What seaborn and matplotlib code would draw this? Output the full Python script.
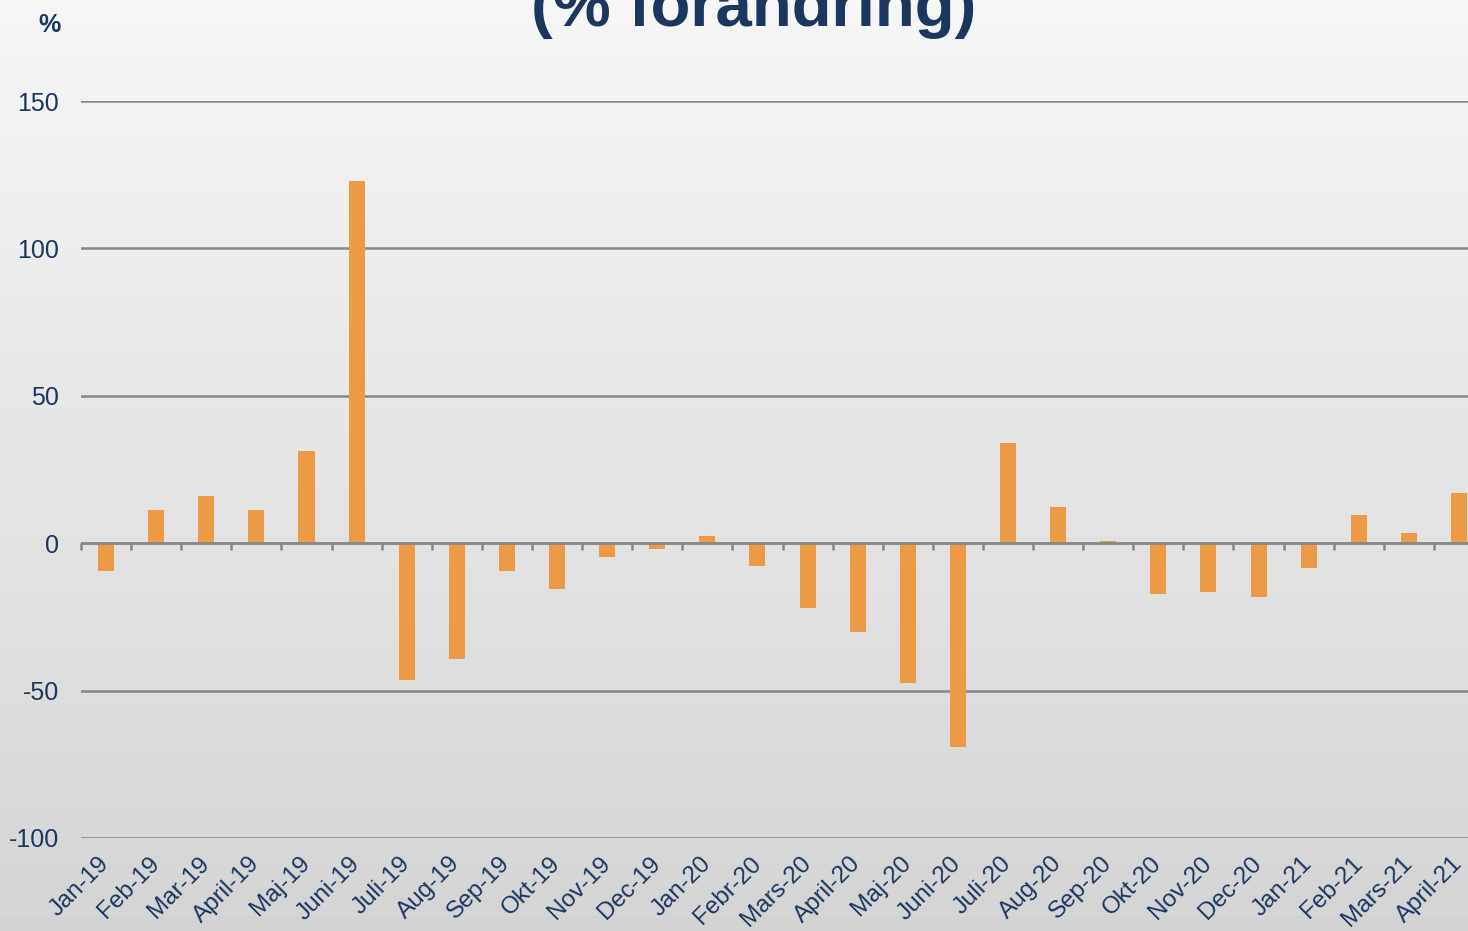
import matplotlib.pyplot as plt
import seaborn as sns
import numpy as np
import pandas as pd


months = ['Jan-19', 'Feb-19', 'Mar-19', 'April-19', 'Maj-19', 'Juni-19', 'Juli-19',
          'Aug-19', 'Sep-19', 'Okt-19', 'Nov-19', 'Dec-19', 'Jan-20', 'Febr-20',
          'Mars-20', 'April-20', 'Maj-20', 'Juni-20', 'Juli-20', 'Aug-20', 'Sep-20',
          'Okt-20', 'Nov-20', 'Dec-20', 'Jan-21', 'Feb-21', 'Mars-21', 'April-21']
change = [-9.4, 11.4, 16.0, 11.4, 31.4, 122.8, -46.3,
          -39.2, -9.4, -15.6, -4.6, -1.9, 2.5, -7.6,
          -22.1, -30.0, -47.3, -69.0, 34.1, 12.4, 0.6,
          -17.3, -16.5, -18.4, -8.4, 9.6, 3.3, 16.9]
y_ticks = [-100, -50, 0, 50, 100, 150]

navy = '#1b365f'
bar_color = '#ec9a45'
grid_color = '#878787'

plt.rcParams['font.family'] = ['Liberation Sans', 'DejaVu Sans']
plt.rcParams['axes.unicode_minus'] = False


def draw_background(fig):
    """
    Grey vertical gradient behind the whole figure
    """
    bg = fig.add_axes([0, 0, 1, 1], zorder=0)
    grad = np.linspace(0.965, 0.83, 256).reshape(-1, 1)
    bg.imshow(grad, aspect='auto', cmap='gray', vmin=0, vmax=1, extent=[0, 1, 0, 1])
    bg.set_axis_off()


def bar_chart():
    """
    Monthly % change as a bar chart
    """
    fig = plt.figure(figsize=(14.68, 9.31), dpi=100)
    draw_background(fig)

    ax = fig.add_axes([0.0552, 0.0999, 0.9557, 0.7916], zorder=1)
    ax.patch.set_alpha(0)

    df = pd.DataFrame({'month': months, 'change': change})
    sns.barplot(data=df, x='month', y='change', color=bar_color, saturation=1,
                width=0.32, edgecolor='none', ax=ax, zorder=3)

    ax.set_xlim(-0.5, len(months) - 0.5)
    ax.set_ylim(-100, 150)
    ax.set_yticks(y_ticks)
    ax.set_xlabel('')
    ax.set_ylabel('')

    # horizontal grid lines, zero line drawn separately
    for v in y_ticks:
        if v != 0:
            ax.axhline(v, color=grid_color, linewidth=1.8, zorder=1)
    ax.axhline(0, color=grid_color, linewidth=2.0, zorder=4)

    for side in ['top', 'right', 'left', 'bottom']:
        ax.spines[side].set_visible(False)

    ax.tick_params(axis='y', length=0, pad=16, labelsize=18, labelcolor=navy)
    ax.tick_params(axis='x', length=0, pad=16, labelsize=17.5, labelcolor=navy)
    for lab in ax.get_xticklabels():
        lab.set_rotation(45)
        lab.set_ha('right')
        lab.set_va('center')
        lab.set_rotation_mode('anchor')

    # small tick marks between the months on the zero line
    zero_axis = ax.secondary_xaxis(100 / 250)
    zero_axis.set_xticks(np.arange(len(months) + 1) - 0.5)
    zero_axis.set_xticklabels([])
    zero_axis.tick_params(length=5, width=1.8, color=grid_color, direction='out')
    zero_axis.spines['bottom'].set_visible(False)

    fig.text(0.026, 0.966, '%', fontsize=18, fontweight='bold', color=navy,
             ha='left', va='baseline')
    fig.text(0.5135, 1 - 26 / 931, '(% förändring)', fontsize=47, fontweight='bold',
             color=navy, ha='center', va='baseline')

    plt.savefig('out.png', dpi=100)


bar_chart()
